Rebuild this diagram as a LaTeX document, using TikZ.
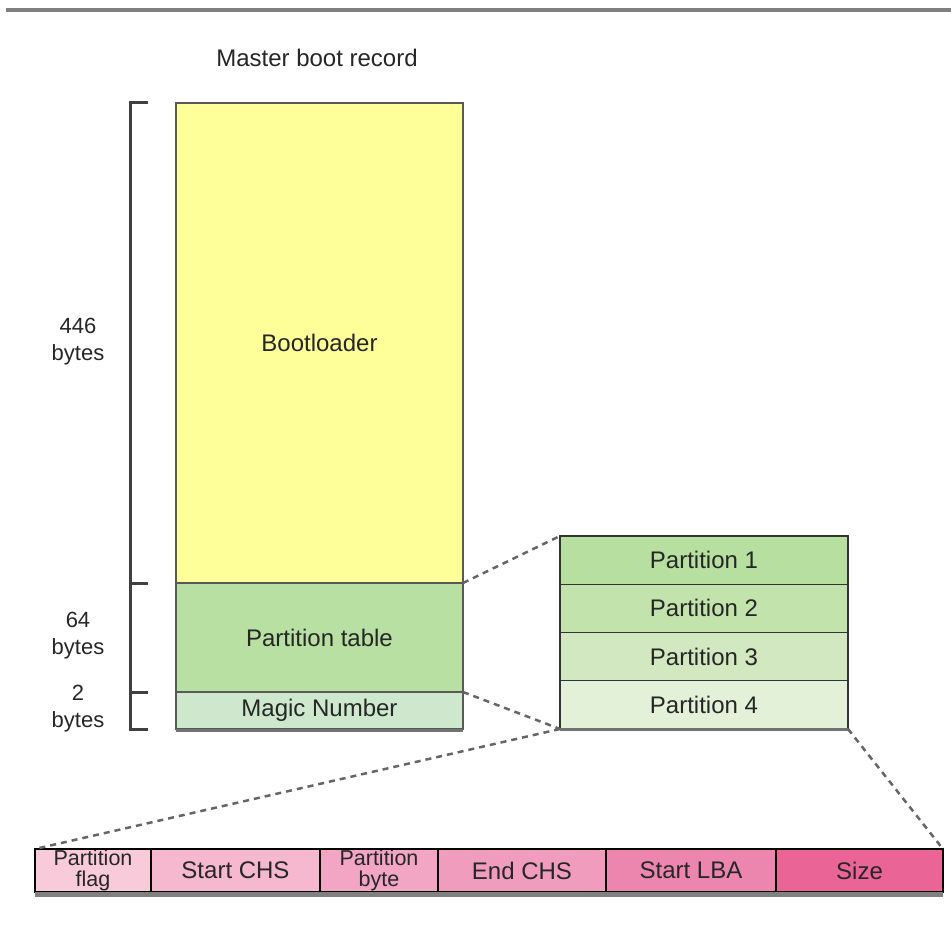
\documentclass[tikz,border=0pt]{standalone}
\usepackage{fontspec}
\setmainfont{Liberation Sans}
\usetikzlibrary{positioning}

\definecolor{bootfill}{HTML}{FFFF99}
\definecolor{tablefill}{HTML}{B8E0A2}
\definecolor{magicfill}{HTML}{CDE8CC}
\definecolor{part1}{HTML}{B6DFA0}
\definecolor{part2}{HTML}{C3E3AD}
\definecolor{part3}{HTML}{D2E8C0}
\definecolor{part4}{HTML}{E2F1D8}
\definecolor{field1}{HTML}{F8CADA}
\definecolor{field2}{HTML}{F5B8CE}
\definecolor{field3}{HTML}{F2A6C4}
\definecolor{field4}{HTML}{F09CBC}
\definecolor{field5}{HTML}{EC86AE}
\definecolor{field6}{HTML}{EA6496}

\tikzset{every node/.style={font=\fontsize{24}{19}\selectfont, text=black!85, align=center, inner sep=0pt, outer sep=0pt}}
\tikzset{mbr/.style={draw=black!65, line width=1.5pt, minimum width=287pt}}
\tikzset{part/.style={draw=black!80, line width=1.2pt, minimum width=288pt, minimum height=48.25pt}}
\tikzset{field/.style={draw=black, line width=1.2pt, minimum height=43pt}}
\tikzset{twoline/.style={font=\fontsize{21.5}{20.5}\selectfont}}
\tikzset{sizelabel/.style={font=\fontsize{22}{27}\selectfont}}
\tikzset{bracket/.style={draw=black!75, line width=3pt}}
\tikzset{zoomline/.style={draw=black!60, line width=2.5pt, dash pattern=on 6pt off 5pt}}

\begin{document}
\begin{tikzpicture}[x=1pt, y=-1pt]
    \useasboundingbox (0,0) rectangle (951,939);
    \draw[black!50, line width=4pt] (6,10) -- (951,10);

    \node (title) at (317,58) {Master boot record};

    % the 512 byte sector
    \node[mbr, fill=bootfill, minimum height=480pt] (boot) at (319.5,343) {Bootloader};
    \node[mbr, fill=tablefill, minimum height=109pt, below=0pt of boot] (ptable) {Partition table};
    \node[mbr, fill=magicfill, minimum height=37pt, below=0pt of ptable] (magic) {Magic Number};
    \draw[black!55, line width=3pt] ([yshift=-1pt]magic.south west) -- ([yshift=-1pt]magic.south east);

    \draw[bracket] (148,0 |- boot.north) -- (130,0 |- boot.north) -- (130,0 |- magic.south) -- (148,0 |- magic.south);
    \foreach \n in {ptable, magic}
        \draw[bracket] (130,0 |- \n.north) -- (148,0 |- \n.north);
    \node[sizelabel] (size446) at (78,342) {446\\bytes};
    \node[sizelabel] (size64) at (78,636) {64\\bytes};
    \node[sizelabel] (size2) at (78,709) {2\\bytes};

    % four entries
    \node[part, fill=part1] (p1) at (704,560.1) {Partition 1};
    \foreach \i/\j in {2/1, 3/2, 4/3}
        \node[part, fill=part\i, below=0pt of p\j] (p\i) {Partition \i};
    \draw[black!55, line width=3pt] ([yshift=-1pt]p4.south west) -- ([yshift=-1pt]p4.south east);

    % one entry
    \node[field, fill=field1, minimum width=116pt, anchor=north west, twoline] (flag) at (35,849) {Partition\\flag};
    \node[field, fill=field2, minimum width=169pt, right=0pt of flag] (schs) {Start CHS};
    \node[field, fill=field3, minimum width=118pt, right=0pt of schs, twoline] (pbyte) {Partition\\byte};
    \node[field, fill=field4, minimum width=168pt, right=0pt of pbyte] (echs) {End CHS};
    \node[field, fill=field5, minimum width=170pt, right=0pt of echs] (slba) {Start LBA};
    \node[field, fill=field6, minimum width=167pt, right=0pt of slba] (size) {Size};
    \draw[black!50, line width=5pt] ([yshift=-2.5pt]flag.south west) -- ([yshift=-2.5pt]size.south east);
    \draw[black, line width=2.5pt] (flag.north west) -- (size.north east);

    \draw[zoomline] (boot.south east) -- (p1.north west);
    \draw[zoomline] (magic.north east) -- (p4.south west);
    \draw[zoomline] (p4.south west) -- (flag.north west);
    \draw[zoomline] (p4.south east) -- (size.north east);
\end{tikzpicture}
\end{document}
